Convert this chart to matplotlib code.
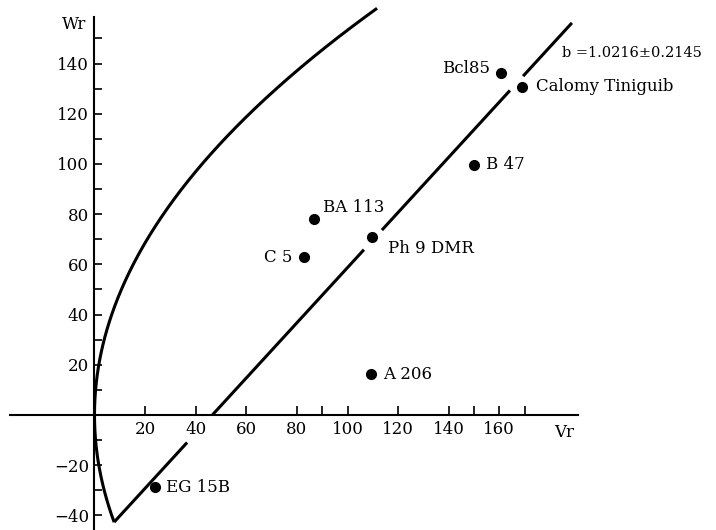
import numpy as np
import matplotlib
matplotlib.use("Agg")
import matplotlib.pyplot as plt
from matplotlib.ticker import FixedLocator

plt.rcParams['font.family'] = ['DejaVu Serif']
plt.rcParams['font.size'] = 12

# ---- data ----
names = ["Bcl85", "Calomy Tiniguib", "B 47", "Ph 9 DMR", "BA 113", "C 5", "A 206", "EG 15B"]
vr = [160.7, 169.0, 150.0, 109.7, 86.8, 82.8, 109.3, 23.9]
wr = [136.3, 130.7, 99.6, 70.9, 78.1, 62.9, 16.3, -28.7]
# label offsets in points (dx, dy) and alignment
label_dx = [-8, 10, 8.5, 11.5, 6.5, -8, 8.5, 8]
label_dy = [3, 0, 0, -8, 8, 0, 0, 0]
label_ha = ["right", "left", "left", "left", "left", "right", "left", "left"]

# limiting parabola Wr^2 = Vr * Vp
vp = 235.0
parab_wr_range = [-42.7, 162.0]

# regression line Wr = a + b Vr (as drawn), with gaps
reg_a = -51.2
reg_b = 1.099
reg_segments = [(7.75, 36.6), (46.6, 106.5), (113.6, 164.2), (169.4, 188.7)]
reg_label = "b =1.0216±0.2145"

xticks_major = [20, 40, 60, 80, 100, 120, 140, 160]
xticks_minor = [90, 150, 170]
yticks_major = [-40, -20, 20, 40, 60, 80, 100, 120, 140]
yticks_minor = [-30, -10, 10, 30, 50, 70, 90, 110, 130, 150]

# ---- figure ----
fig = plt.figure(figsize=(7.16, 5.30), dpi=100)
ax = fig.add_axes([0, 0, 1, 1])
ax.set_xlim(-37.35, 245.65)
ax.set_ylim(-45.82, 165.3)

# parabola
w = np.linspace(parab_wr_range[0], parab_wr_range[1], 400)
ax.plot(w**2 / vp, w, color='black', lw=2.2, solid_capstyle='butt')

# regression line
for v0, v1 in reg_segments:
    xs = np.array([v0, v1])
    ax.plot(xs, reg_a + reg_b * xs, color='black', lw=2.2, solid_capstyle='butt')

# points
ax.plot(vr, wr, 'o', color='black', markersize=7)
for n, x, y, dx, dy, ha in zip(names, vr, wr, label_dx, label_dy, label_ha):
    ax.annotate(n, (x, y), xytext=(dx, dy), textcoords='offset points',
                ha=ha, va='center', fontsize=12)

ax.text(184.8, 144.2, reg_label, ha='left', va='center', fontsize=10.5)
ax.text(-8.1, 155.4, "Wr", ha='center', va='center', fontsize=12)
ax.text(185.6, -6.8, "Vr", ha='center', va='center', fontsize=12)

# axes
for s in ['top', 'right']:
    ax.spines[s].set_visible(False)
ax.spines['left'].set_position(('data', 0))
ax.spines['bottom'].set_position(('data', 0))
ax.spines['left'].set_bounds(-50, 158.6)
ax.spines['bottom'].set_bounds(-33.4, 191.1)
ax.spines['left'].set_linewidth(1.5)
ax.spines['bottom'].set_linewidth(1.5)

ax.xaxis.set_major_locator(FixedLocator(xticks_major))
ax.xaxis.set_minor_locator(FixedLocator(xticks_minor))
ax.yaxis.set_major_locator(FixedLocator(yticks_major))
ax.yaxis.set_minor_locator(FixedLocator(yticks_minor))
ax.tick_params(axis='x', which='both', direction='in', length=6.5, width=1.2, pad=4, labelsize=12)
ax.tick_params(axis='y', which='both', direction='in', length=6, width=1.2, pad=4, labelsize=12)
for lab in ax.get_yticklabels():
    lab.set_horizontalalignment('right')

fig.savefig("out.png", dpi=100)
